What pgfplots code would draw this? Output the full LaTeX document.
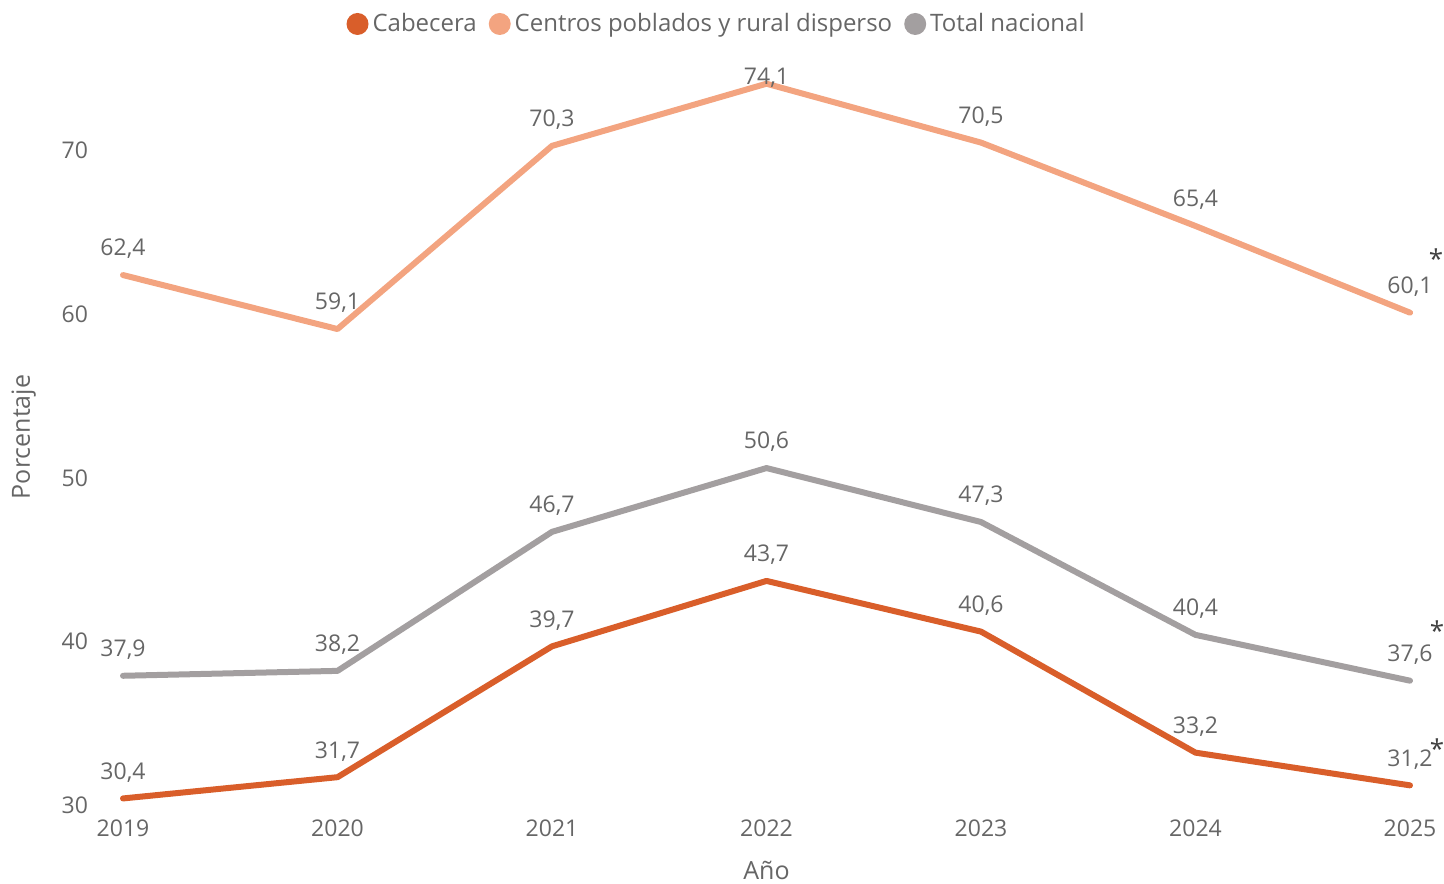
\documentclass[border=0pt]{standalone}
\usepackage{fontspec}
\setmainfont{Open Sans}
\usepackage{pgfplots}
\pgfplotsset{compat=1.18}

\definecolor{cabecera}{RGB}{217,94,42}
\definecolor{centros}{RGB}{243,164,128}
\definecolor{total}{RGB}{163,159,160}
\definecolor{txt}{RGB}{102,102,102}

\begin{document}
\begin{tikzpicture}
\begin{axis}[
    name=ax,
    scale only axis,
    width=643.5pt, height=368pt,
    xmin=2019, xmax=2025,
    ymin=30, ymax=75,
    clip=false,
    axis line style={draw=none},
    major tick length=0pt,
    xtick={2019,2020,2021,2022,2023,2024,2025},
    ytick={30,40,50,60,70},
    /pgf/number format/1000 sep={},
    /pgf/number format/assume math mode=true,
    tick label style={font=\fontsize{11.5}{13}\selectfont, text=txt},
    yticklabel style={xshift=-14pt},
    xticklabel style={yshift=-4pt},
    xlabel={Año},
    ylabel={Porcentaje},
    label style={font=\fontsize{12.5}{14}\selectfont, text=txt},
    xlabel style={yshift=-5pt},
    ylabel style={yshift=6pt},
    point meta=explicit symbolic,
    nodes near coords,
    every node near coord/.style={anchor=center, yshift=13pt,
        font=\fontsize{11.5}{13}\selectfont, text=txt},
    legend style={at={(0.462,1)}, anchor=center, yshift=22.5pt,
        draw=none, fill=none, legend columns=-1,
        font=\fontsize{12}{14}\selectfont, text=txt,
        /tikz/every even column/.append style={column sep=4pt}},
    legend image code/.code={\fill[#1, draw=none] (2pt,0pt) circle (5.5pt);},
    every axis plot/.append style={line width=3pt, line cap=round, line join=round, mark=none},
]
\addplot[color=cabecera] coordinates {
    (2019,30.4) [30,4] (2020,31.7) [31,7] (2021,39.7) [39,7] (2022,43.7) [43,7]
    (2023,40.6) [40,6] (2024,33.2) [33,2] (2025,31.2) [31,2]
};
\addlegendentry{Cabecera}
\addplot[color=centros] coordinates {
    (2019,62.4) [62,4] (2020,59.1) [59,1] (2021,70.3) [70,3] (2022,74.1) []
    (2023,70.5) [70,5] (2024,65.4) [65,4] (2025,60.1) [60,1]
};
\addlegendentry{Centros poblados y rural disperso}
\addplot[color=total] coordinates {
    (2019,37.9) [37,9] (2020,38.2) [38,2] (2021,46.7) [46,7] (2022,50.6) [50,6]
    (2023,47.3) [47,3] (2024,40.4) [40,4] (2025,37.6) [37,6]
};
\addlegendentry{Total nacional}

\node[font=\fontsize{11.5}{13}\selectfont, text=txt] at (axis cs:2022,74.1) [yshift=3pt] {74,1};
\node[font=\fontsize{13}{13}\selectfont, text=black!75] at (axis cs:2025,60.1) [xshift=13pt, yshift=27pt] {*};
\node[font=\fontsize{13}{13}\selectfont, text=black!75] at (axis cs:2025,37.6) [xshift=13.5pt, yshift=25pt] {*};
\node[font=\fontsize{13}{13}\selectfont, text=black!75] at (axis cs:2025,31.2) [xshift=13.5pt, yshift=18.5pt] {*};
\end{axis}
\pgfresetboundingbox
\path[use as bounding box] ([xshift=-61.5pt,yshift=-39.5pt]ax.south west) rectangle ([xshift=17pt,yshift=34.5pt]ax.north east);
\end{tikzpicture}
\end{document}
